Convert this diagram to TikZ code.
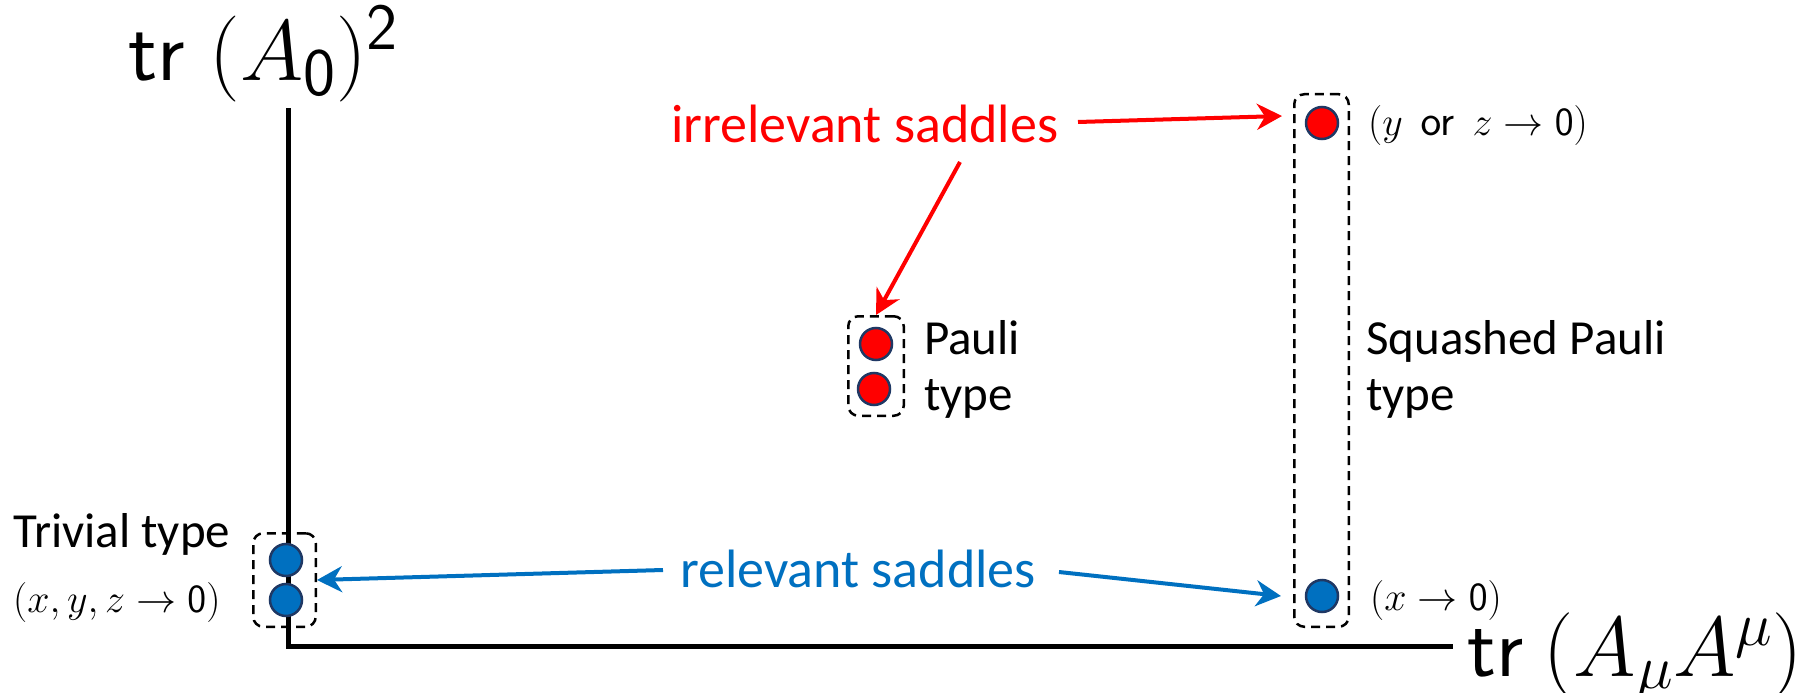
\documentclass[tikz,border=0pt]{standalone}
\usepackage{fix-cm}
\usepackage[no-math]{fontspec}
\setmainfont{Carlito}
\usetikzlibrary{arrows.meta}
\definecolor{pptred}{HTML}{FF0000}
\definecolor{pptblue}{HTML}{0070C0}
\definecolor{navy}{HTML}{1F3864}
% sans-serif index at an explicit size
\newcommand{\sfidx}[2]{\mbox{\fontsize{#1}{#1}\selectfont$\mathsf{#2}$}}
% math index at an explicit size
\newcommand{\mathidx}[2]{\mbox{\fontsize{#1}{#1}\selectfont$#2$}}
\begin{document}
\begin{tikzpicture}[x=1pt,y=-1pt,
  txt/.style={inner sep=0pt, font=\fontsize{49}{49}\selectfont},
  saddlelab/.style={inner sep=0pt, font=\fontsize{54}{54}\selectfont},
  condlab/.style={inner sep=0pt, font=\fontsize{40}{40}\selectfont},
  axislab/.style={inner sep=0pt, font=\fontsize{#1}{#1}\selectfont},
  dot/.style={circle, draw=navy, line width=2.5pt, minimum size=32pt, inner sep=0pt},
  reddot/.style={dot, fill=pptred},
  bluedot/.style={dot, fill=pptblue},
  groupbox/.style={draw, dash pattern=on 9pt off 6pt, line width=2.5pt, rounded corners=10pt, inner sep=0pt},
  axisline/.style={line width=5pt},
  pointer/.style={line width=4pt, -{Stealth[length=25pt,width=26pt,inset=8pt]}}
]
\useasboundingbox (0,0) rectangle (1808,693);

% axes
\coordinate (ytop) at (288,108);
\coordinate (orig) at (288,646);
\coordinate (xend) at (1453,646);
\draw[axisline] (ytop) -- (orig) -- (xend);
\node[axislab=86, anchor=base west] (ylab) at (128,81)
  {$\mathsf{tr}\;(A_{\sfidx{68}{0}})^{\sfidx{66}{2}}$};
\node[axislab=85, anchor=base east] (xlab) at (1803,676)
  {$\mathsf{tr}\mskip4mu(A_{\mathidx{62}{\mu}} A^{\mathidx{62}{\mu}})$};

% group boxes
\node[groupbox, minimum width=62.5pt, minimum height=93.5pt] (boxT) at (284.5,580) {};
\node[groupbox, minimum width=55.5pt, minimum height=99.5pt] (boxP) at (876,366) {};
\node[groupbox, minimum width=54.5pt, minimum height=532.5pt] (boxS) at (1321.5,360.5) {};

% saddle points
\node[bluedot] (t1) at (286,560) {};
\node[bluedot] (t2) at (286,600) {};
\node[reddot] (p1) at (876,344) {};
\node[reddot] (p2) at (874,389) {};
\node[reddot] (s1) at (1322,123) {};
\node[bluedot] (s2) at (1322,596) {};

% labels
\node[txt, anchor=base west] (trivlab) at (13,547) {Trivial type};
\node[condlab, anchor=base west] (trivcond) at (13,612) {$(x,y,z\to\mathsf{0})$};
\node[txt, anchor=base west] (pauli1) at (924,354) {Pauli};
\node[txt, anchor=base west] (pauli2) at (924,410) {type};
\node[txt, anchor=base west] (sq1) at (1366,354) {Squashed Pauli};
\node[txt, anchor=base west] (sq2) at (1366,410) {type};
\node[condlab, anchor=base west] (topcond) at (1368,135) {$(y\;\,\sfidx{44}{or}\;\,z\to\mathsf{0})$};
\node[condlab, anchor=base west] (botcond) at (1370,610) {$(x\to\mathsf{0})$};
\node[saddlelab, text=pptred, anchor=base west] (irr) at (671,142) {irrelevant saddles};
\node[saddlelab, text=pptblue, anchor=base west] (rel) at (680,587) {relevant saddles};

% pointers
\coordinate (irrR) at (1078,122);
\coordinate (irrD) at (960,162);
\coordinate (tipS1) at (1282,116);
\coordinate (relL) at (663,570);
\coordinate (relR) at (1059,572);
\coordinate (tipS2) at (1281,596);
\draw[pointer, pptred] (irrR) -- (tipS1);
\draw[pointer, pptred] (irrD) -- (boxP.north);
\draw[pointer, pptblue] (relL) -- (boxT.east);
\draw[pointer, pptblue] (relR) -- (tipS2);
\end{tikzpicture}
\end{document}
